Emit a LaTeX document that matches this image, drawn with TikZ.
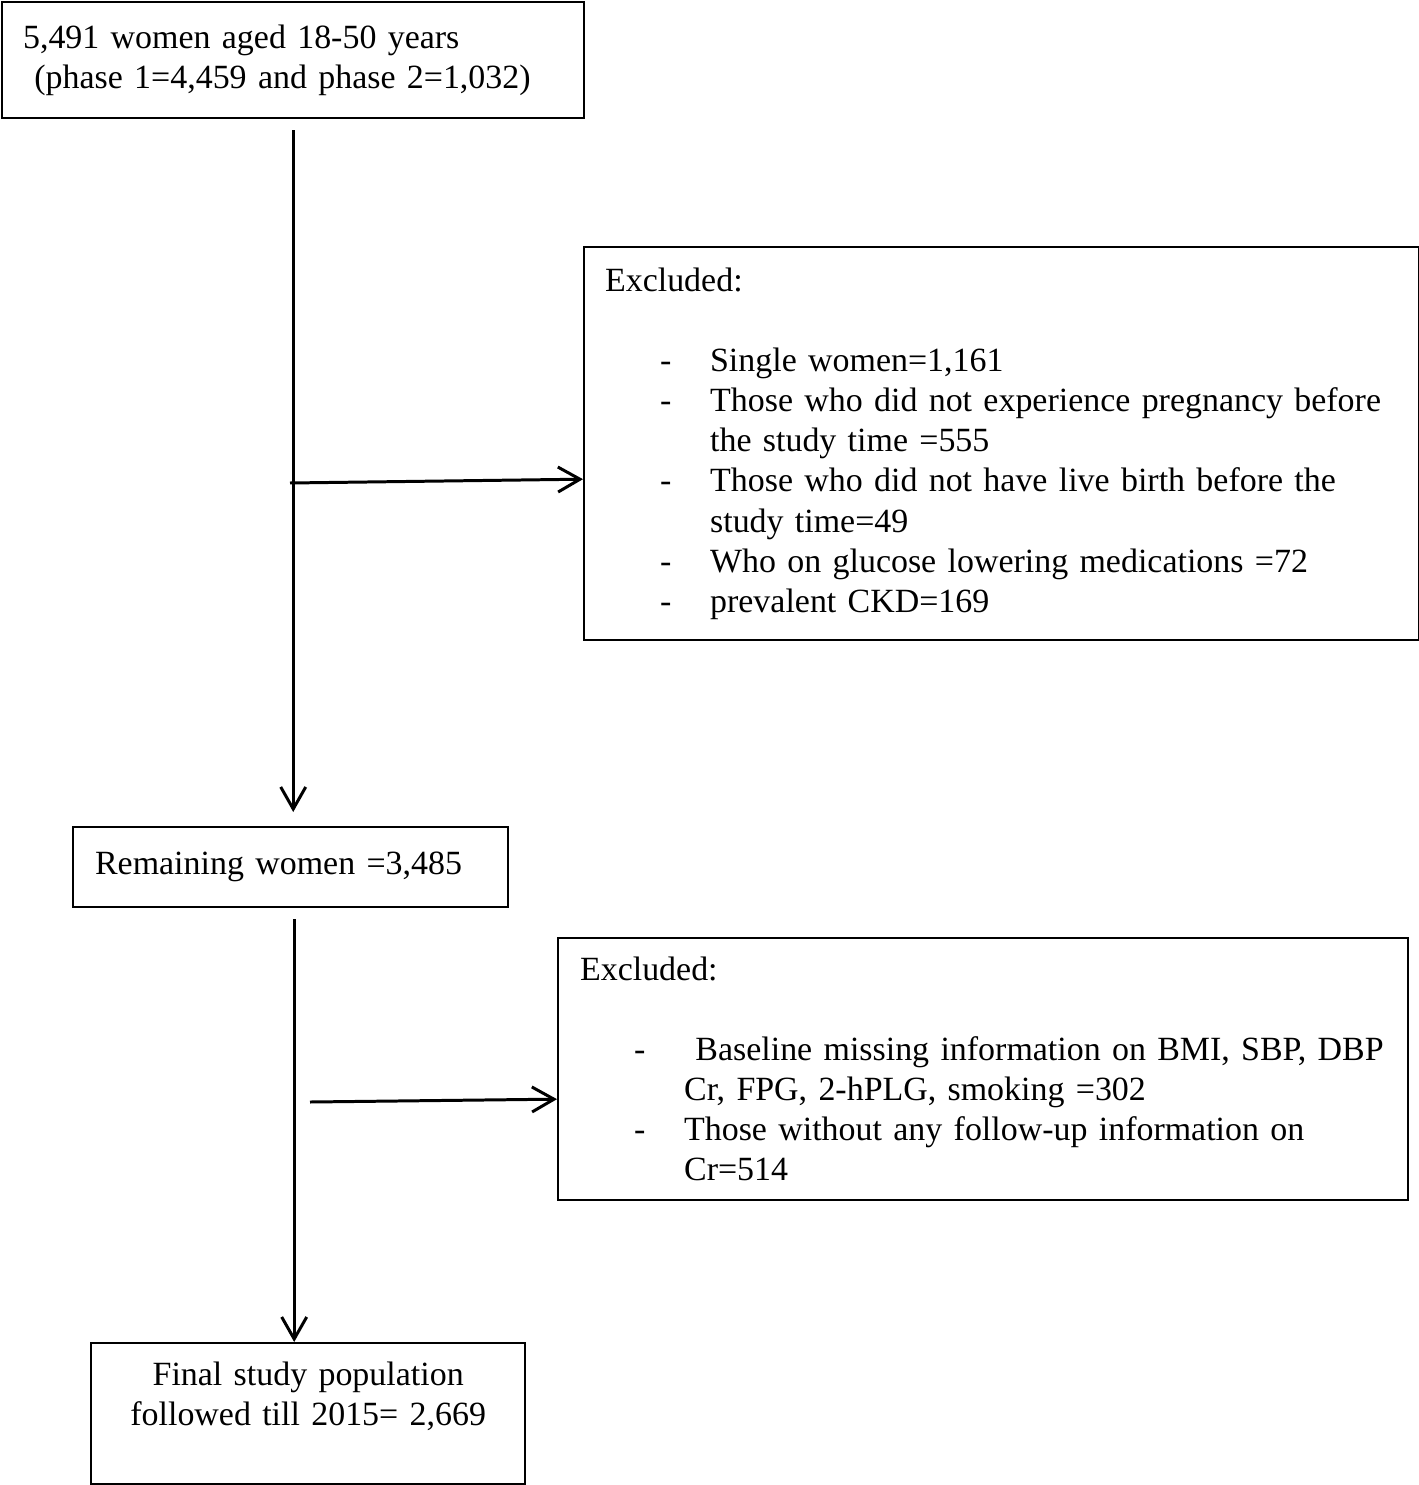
\documentclass[tikz,border=0pt]{standalone}
\usepackage{fontspec}
\setmainfont{Liberation Serif}
\usetikzlibrary{arrows.meta,positioning}

% bullet line of an exclusion list
\newcommand{\exitem}[2]{\hspace*{#1}\makebox[0.5cm][l]{-}}
\newcommand{\excont}[1]{\hspace*{#1}\hspace*{0.5cm}}

\begin{document}
\begin{tikzpicture}[
  x=0.01cm, y=-0.01cm,
  box/.style={draw, line width=0.6pt, anchor=north west, inner ysep=0.1cm, align=left,
    font=\fontsize{9.65pt}{11.4pt}\selectfont},
  arr/.style={-{Straight Barb[length=0.22cm, width=0.25cm]}, line width=0.85pt},
]
\useasboundingbox (0,0) rectangle (1418,1485);

\node[box, minimum width=5.82cm, minimum height=1.16cm, inner xsep=0.21cm, text width=5.40cm] (pop) at (1,1)
  {5,491 women aged 18-50 years\\
   \ (phase 1=4,459 and phase 2=1,032)};
\node[box, minimum width=4.35cm, minimum height=0.80cm, inner xsep=0.22cm, text width=3.91cm] (rem) at (72,826)
  {Remaining women =3,485};
\node[box, minimum width=8.34cm, minimum height=3.93cm, inner xsep=0.21cm, text width=7.92cm] (excl1) at (583,246)
  {Excluded:\\[11.4pt]
   \exitem{0.55cm}{}Single women=1,161\\
   \exitem{0.55cm}{}Those who did not experience pregnancy before\\
   \excont{0.55cm}the study time =555\\
   \exitem{0.55cm}{}Those who did not have live birth before the\\
   \excont{0.55cm}study time=49\\
   \exitem{0.55cm}{}Who on glucose lowering medications =72\\
   \exitem{0.55cm}{}prevalent CKD=169};
\node[box, minimum width=8.49cm, minimum height=2.62cm, inner xsep=0.15cm, text width=8.19cm] (excl2) at (557,937)
  {\hspace*{0.07cm}Excluded:\\[11.4pt]
   \exitem{0.61cm}{}\ Baseline missing information on BMI, SBP, DBP\\
   \excont{0.61cm}Cr, FPG, 2-hPLG, smoking =302\\
   \exitem{0.61cm}{}Those without any follow-up information on\\
   \excont{0.61cm}Cr=514};
\node[box, align=center, minimum width=4.34cm, minimum height=1.41cm, text width=4.1cm] (fin) at (90,1342)
  {Final study population\\
   followed till 2015= 2,669\\
   \mbox{}};

\coordinate (split1) at (290,483);
\coordinate (split2) at (310,1102);

\draw[arr, shorten <=0.11cm, shorten >=0.14cm] (pop.south) -- (pop.south |- rem.north);
\draw[arr] (split1) -- ([yshift=-0.355cm]excl1.west);
\draw[arr, shorten <=0.11cm] ([xshift=0.035cm]rem.south) -- ([xshift=0.035cm]rem.south |- fin.north);
\draw[arr] (split2) -- ([yshift=-0.30cm]excl2.west);
\end{tikzpicture}
\end{document}
